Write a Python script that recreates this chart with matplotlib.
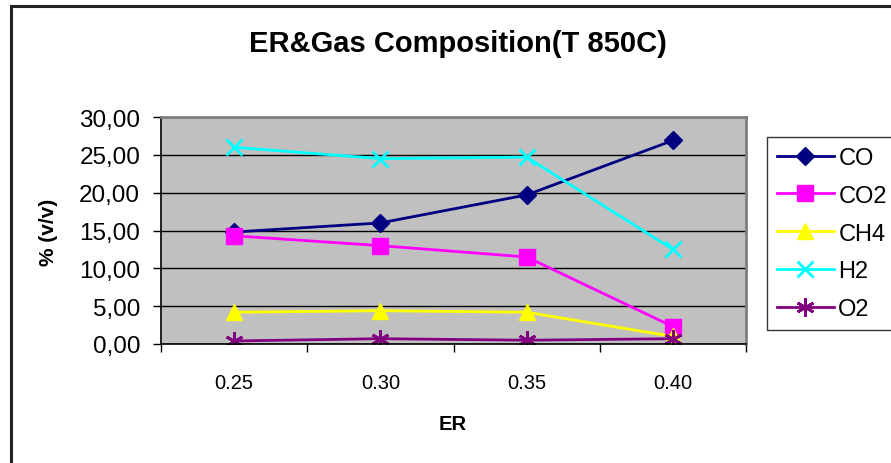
import numpy as np
import matplotlib.pyplot as plt
from matplotlib.patches import Rectangle
from matplotlib.ticker import FuncFormatter

plt.rcParams['font.family'] = ['Liberation Sans', 'DejaVu Sans']

er = ['0.25', '0.30', '0.35', '0.40']
co = [14.8, 16.0, 19.7, 26.9]
co2 = [14.3, 13.0, 11.5, 2.3]
ch4 = [4.2, 4.4, 4.2, 1.0]
h2 = [26.0, 24.5, 24.7, 12.5]
o2 = [0.4, 0.7, 0.5, 0.7]

W, H = 891, 464
fig = plt.figure(figsize=(W / 100, H / 100), dpi=100)
# outer chart frame (right and bottom run off the image)
fig.patches.append(Rectangle((11 / W, -0.1), 1.2, 1 - 7 / H + 0.1, transform=fig.transFigure,
                             fill=False, edgecolor='#222222', linewidth=2.2))

ax = fig.add_axes([161 / W, 1 - 345 / H, (746 - 161) / W, (345 - 118) / H])
ax.set_facecolor('#c0c0c0')

x = np.arange(len(er))
ax.plot(x, co, color='#000080', marker='D', markersize=9, linewidth=2, label='CO')
ax.plot(x, co2, color='#ff00ff', marker='s', markersize=11, linewidth=2, label='CO2')
ax.plot(x, ch4, color='#ffff00', marker='^', markersize=11, linewidth=2, label='CH4')
ax.plot(x, h2, color='#00ffff', marker='x', markersize=12, markeredgewidth=2, linewidth=2, label='H2')
ax.plot(x, o2, color='#800080', marker=(6, 2, 0), markersize=13, markeredgewidth=2, linewidth=2, label='O2')

ax.set_xlim(-0.5, 3.5)
ax.set_ylim(0, 30)
ax.set_yticks(np.arange(0, 31, 5))
ax.yaxis.set_major_formatter(FuncFormatter(lambda v, p: f'{v:.2f}'.replace('.', ',')))
ax.set_xticks(x)
ax.set_xticklabels(er)
ax.set_xticks(np.arange(-0.5, 4, 1), minor=True)
ax.tick_params(axis='x', which='major', length=0, pad=21, labelsize=14.5)
ax.tick_params(axis='x', which='minor', length=6, width=1, direction='out')
ax.tick_params(axis='y', length=6, width=1, direction='out', labelsize=17.5, pad=9)
ax.grid(axis='y', color='black', linewidth=1)
ax.set_axisbelow(True)

for s in ['top', 'right']:
    ax.spines[s].set_color('#808080')
    ax.spines[s].set_linewidth(2)
for s in ['left', 'bottom']:
    ax.spines[s].set_color('black')
    ax.spines[s].set_linewidth(1.2)

fig.text(458 / W, 1 - 44 / H, 'ER&Gas Composition(T 850C)', ha='center', va='center',
         fontsize=21, fontweight='bold')
fig.text(48 / W, 1 - 232 / H, '% (v/v)', ha='center', va='center', rotation=90,
         fontsize=15, fontweight='bold')
fig.text(453 / W, 1 - 425 / H, 'ER', ha='center', va='center', fontsize=14.5, fontweight='bold')

leg = fig.legend(loc='upper left', bbox_to_anchor=(767 / W, 1 - 326 / H, 0.3, 188 / H),
                 mode='expand', frameon=True, fancybox=False, edgecolor='black',
                 fontsize=17, handlelength=2.4, labelspacing=0.67, borderpad=0.42,
                 handletextpad=0.2, borderaxespad=0)
leg.get_frame().set_linewidth(1)

fig.savefig('out.png', dpi=100)
